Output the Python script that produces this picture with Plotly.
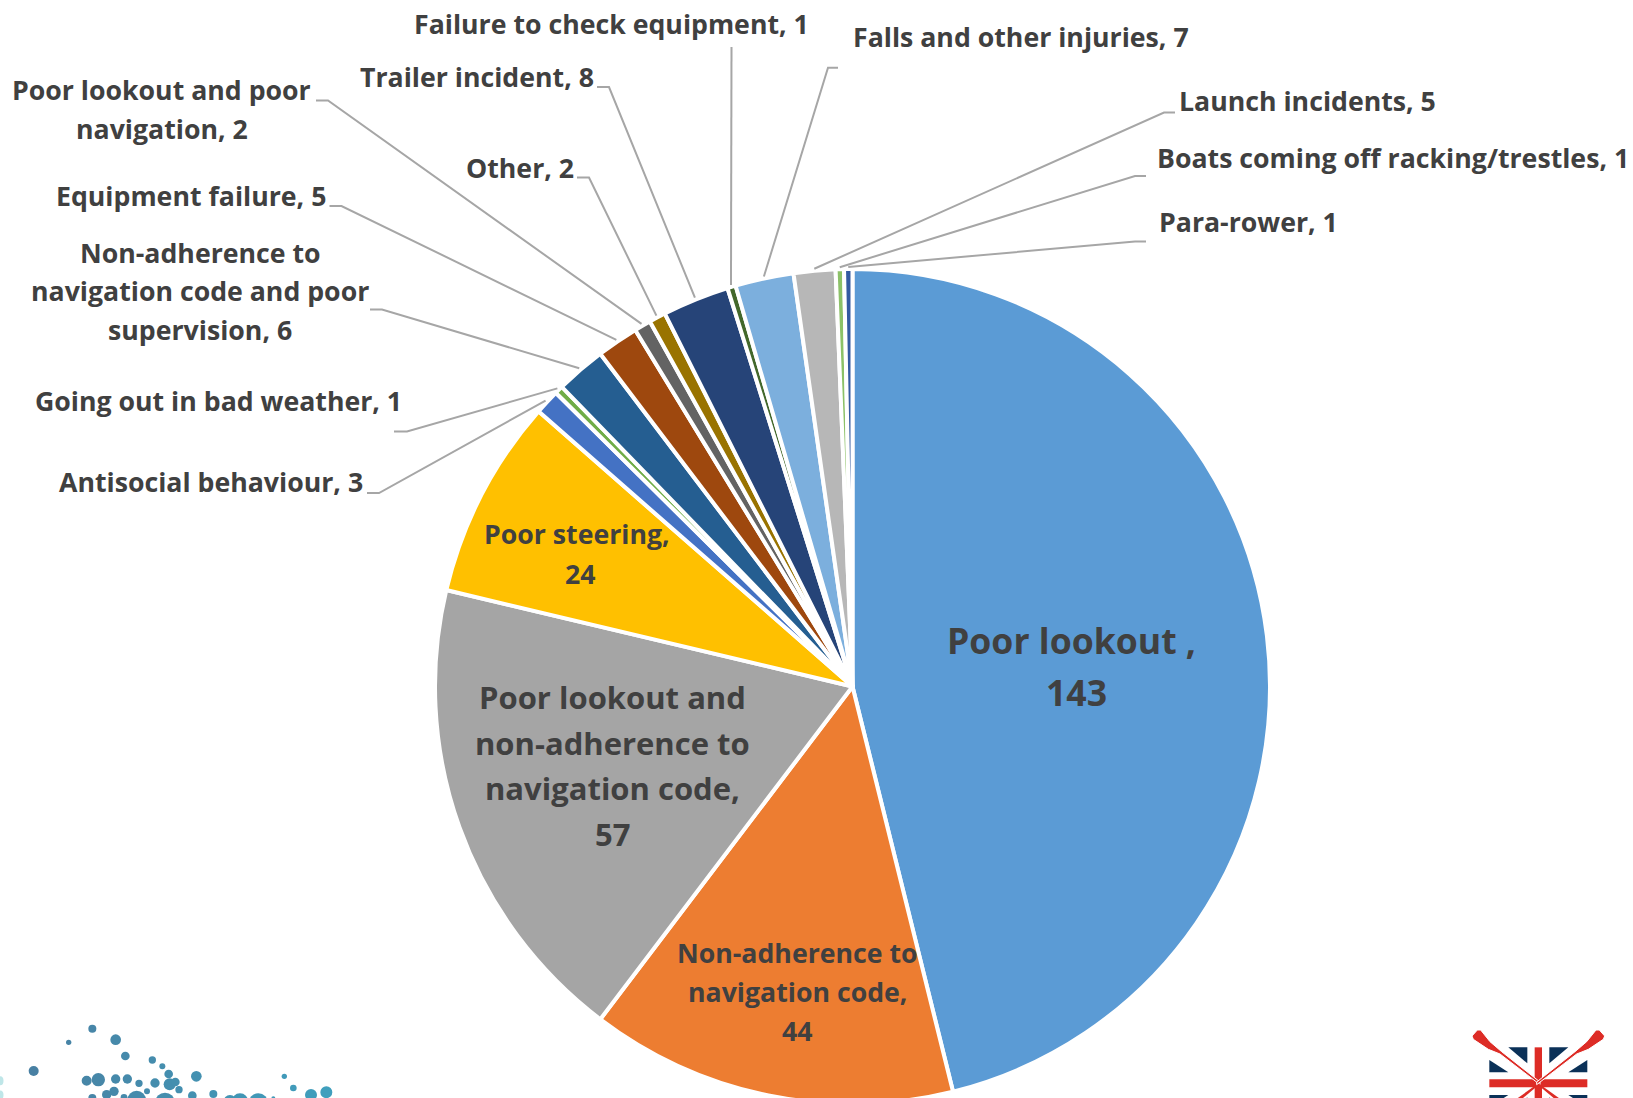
import math
import textwrap

import plotly.graph_objects as go

# Incident causes, clockwise from twelve o'clock
CATEGORIES = [
    "Poor lookout ,", "Non-adherence to navigation code",
    "Poor lookout and non-adherence to navigation code", "Poor steering",
    "Antisocial behaviour", "Going out in bad weather",
    "Non-adherence to navigation code and poor supervision", "Equipment failure",
    "Poor lookout and poor navigation", "Other", "Trailer incident",
    "Failure to check equipment", "Falls and other injuries", "Launch incidents",
    "Boats coming off racking/trestles", "Para-rower",
]
VALUES = [143, 44, 57, 24, 3, 1, 6, 5, 2, 2, 8, 1, 7, 5, 1, 1]
COLORS = [
    "#5B9BD5", "#ED7D31", "#A5A5A5", "#FFC000", "#4472C4", "#70AD47",
    "#255E91", "#9E480E", "#636363", "#997300", "#264478", "#43682B",
    "#7CAFDD", "#B7B7B7", "#8CC168", "#335AA1",
]

W, H = 1633, 1106
CX, CY, R = 852.5, 686.5, 417.5
TEXT = "#404040"
FONT = "Open Sans"

# Labels whose first row carries a trailing space, which nudges it left of the value
TRAILING_SPACE = {0, 3}


def px(x):
    return x / W


def py(y):
    return 1 - y / H


# Per-label wrap width, block centre, first row, row pitch, font size
LABEL_STYLE = [
    (14, 1076, 640, 52, 35.6),
    (16, 797, 953, 38.5, 26.7),
    (18, 612, 697, 45.5, 31),
    (14, 580, 534, 39, 26.7),
    (60, 211, 481, 0, 26.7),
    (60, 218, 401, 0, 26.7),
    (26, 200, 252, 38.5, 26.7),
    (60, 190.5, 195, 0, 26.7),
    (21, 161.5, 90, 38.5, 26.7),
    (60, 520, 167, 0, 26.7),
    (60, 477, 76, 0, 26.7),
    (60, 611, 23, 0, 26.7),
    (60, 1021, 37, 0, 26.7),
    (60, 1307, 101, 0, 26.7),
    (60, 1392.5, 157, 0, 26.7),
    (60, 1248, 221, 0, 26.7),
]

# Leader anchor beside each outside label: (start x, elbow x, y)
LEADERS = {
    4: (367, 379, 493),
    5: (394, 407, 431.5),
    6: (370, 382, 309.5),
    7: (329.5, 341.5, 206),
    8: (316, 328, 100.5),
    9: (577, 589, 177.5),
    10: (597, 609, 87),
    11: (731.5, 731.5, 47),
    12: (838, 828, 67.7),
    13: (1175, 1164, 112.5),
    14: (1146, 1135, 176),
    15: (1146, 1135, 241.5),
}

fig = go.Figure(
    go.Pie(
        labels=CATEGORIES,
        values=VALUES,
        sort=False,
        direction="clockwise",
        rotation=0,
        marker=dict(colors=COLORS, line=dict(color="white", width=4)),
        textinfo="none",
        hoverinfo="label+value",
        showlegend=False,
        domain=dict(
            x=[px(CX - R), px(CX + R)],
            y=[py(CY + R), py(CY - R)],
        ),
    )
)

# Labels, one annotation per row so the row pitch stays independent of the font
annotations = []
for idx, (name, value, (wrap, x, y, pitch, size)) in enumerate(
        zip(CATEGORIES, VALUES, LABEL_STYLE)):
    if name.endswith(","):
        rows = [name, str(value)]
    else:
        rows = textwrap.wrap(f"{name}, {value}", wrap, break_on_hyphens=False)
    if idx in TRAILING_SPACE:
        rows[0] += "&nbsp;"
    for i, row in enumerate(rows):
        annotations.append(dict(
            x=px(x), y=py(y + i * pitch), xref="paper", yref="paper",
            text=f"<b>{row}</b>", showarrow=False,
            xanchor="center", yanchor="middle",
            font=dict(family=FONT, size=size, color=TEXT),
        ))

shapes = []
total = sum(VALUES)
running = 0
for i, value in enumerate(VALUES):
    angle = math.radians((running + value / 2) / total * 360)
    running += value
    if i not in LEADERS:
        continue
    sx, ex, ly = LEADERS[i]
    tip_x = CX + (R + 2) * math.sin(angle)
    tip_y = CY - (R + 2) * math.cos(angle)
    shapes.append(dict(
        type="path", xref="paper", yref="paper",
        path=f"M {px(sx)} {py(ly)} L {px(ex)} {py(ly)} L {px(tip_x)} {py(tip_y)}",
        line=dict(color="#A6A6A6", width=2),
    ))

# Bubble emblem, lower left
BUBBLES = [
    (277, 86, 12), (206, 127, 8), (347, 119, 16), (376, 168, 13), (101, 213, 15),
    (457, 180, 11), (487, 199, 9), (506, 222, 13), (589, 229, 16), (260, 242, 15),
    (295, 239, 20), (347, 237, 14), (382, 237, 14), (417, 250, 11), (465, 249, 14),
    (509, 253, 18), (526, 246, 13), (441, 274, 9), (537, 269, 11), (342, 274, 14),
    (320, 284, 14), (277, 294, 12), (372, 292, 10), (410, 300, 28), (495, 308, 30),
    (577, 287, 13), (640, 282, 12), (690, 305, 20), (720, 305, 25), (775, 310, 30),
    (820, 295, 6), (853, 229, 8), (880, 264, 10), (933, 285, 18), (979, 277, 18),
]
for bx, by, br in BUBBLES:
    mix = bx / 1000
    col = f"rgb({int(74 - 10 * mix)},{int(125 + 35 * mix)},{int(160 + 30 * mix)})"
    x, y, r = bx / 3, 1000 + by / 3, br / 3
    shapes.append(dict(type="circle", xref="paper", yref="paper",
                       x0=px(x - r), x1=px(x + r), y0=py(y + r), y1=py(y - r),
                       fillcolor=col, line=dict(width=0)))
for by in (242, 285):
    y = 1000 + by / 3
    shapes.append(dict(type="circle", xref="paper", yref="paper",
                       x0=px(-3), x1=px(3.5), y0=py(y + 4.5), y1=py(y - 4.5),
                       fillcolor="#BFE6E8", line=dict(width=0)))


# Crossed oars over a flag, lower right
def poly(points, fill, line_color=None, line_width=0):
    path = "M " + " L ".join(
        f"{px(1440 + a / 3)} {py(1010 + b / 3)}" for a, b in points) + " Z"
    shapes.append(dict(type="path", xref="paper", yref="paper", path=path,
                       fillcolor=fill, line=dict(width=line_width, color=line_color or fill)))


NAVY, RED = "#0B3158", "#DD2C26"
MID = 295
for side in (1, -1):
    m = lambda pts: [(MID + side * (a - MID), b) for a, b in pts]
    poly(m([(205, 112), (262, 112), (262, 160)]), NAVY)
    poly(m([(148, 150), (205, 187), (148, 187)]), NAVY)
    poly(m([(148, 255), (205, 255), (148, 292)]), NAVY)
    poly(m([(262, 262), (262, 300), (215, 300)]), NAVY)
poly([(284, 112), (306, 112), (306, 300), (284, 300)], RED)
poly([(148, 208), (442, 208), (442, 232), (148, 232)], RED)
for side in (1, -1):
    m = lambda pts: [(MID + side * (a - MID), b) for a, b in pts]
    poly(m([(295, 220), (225, 270), (232, 278), (295, 226)]), RED)
    poly(m([(300, 224), (180, 132), (145, 118), (100, 88), (96, 78),
            (112, 60), (122, 60), (150, 95), (185, 125), (300, 216)]),
         RED, "white", 1)

fig.update_layout(
    width=W,
    height=H,
    margin=dict(l=0, r=0, t=0, b=0),
    paper_bgcolor="white",
    annotations=annotations,
    shapes=shapes,
)

fig.write_html(
    "out.html",
    config=dict(displayModeBar=False),
    post_script="document.documentElement.style.overflow='hidden';document.body.style.overflow='hidden';",
)
